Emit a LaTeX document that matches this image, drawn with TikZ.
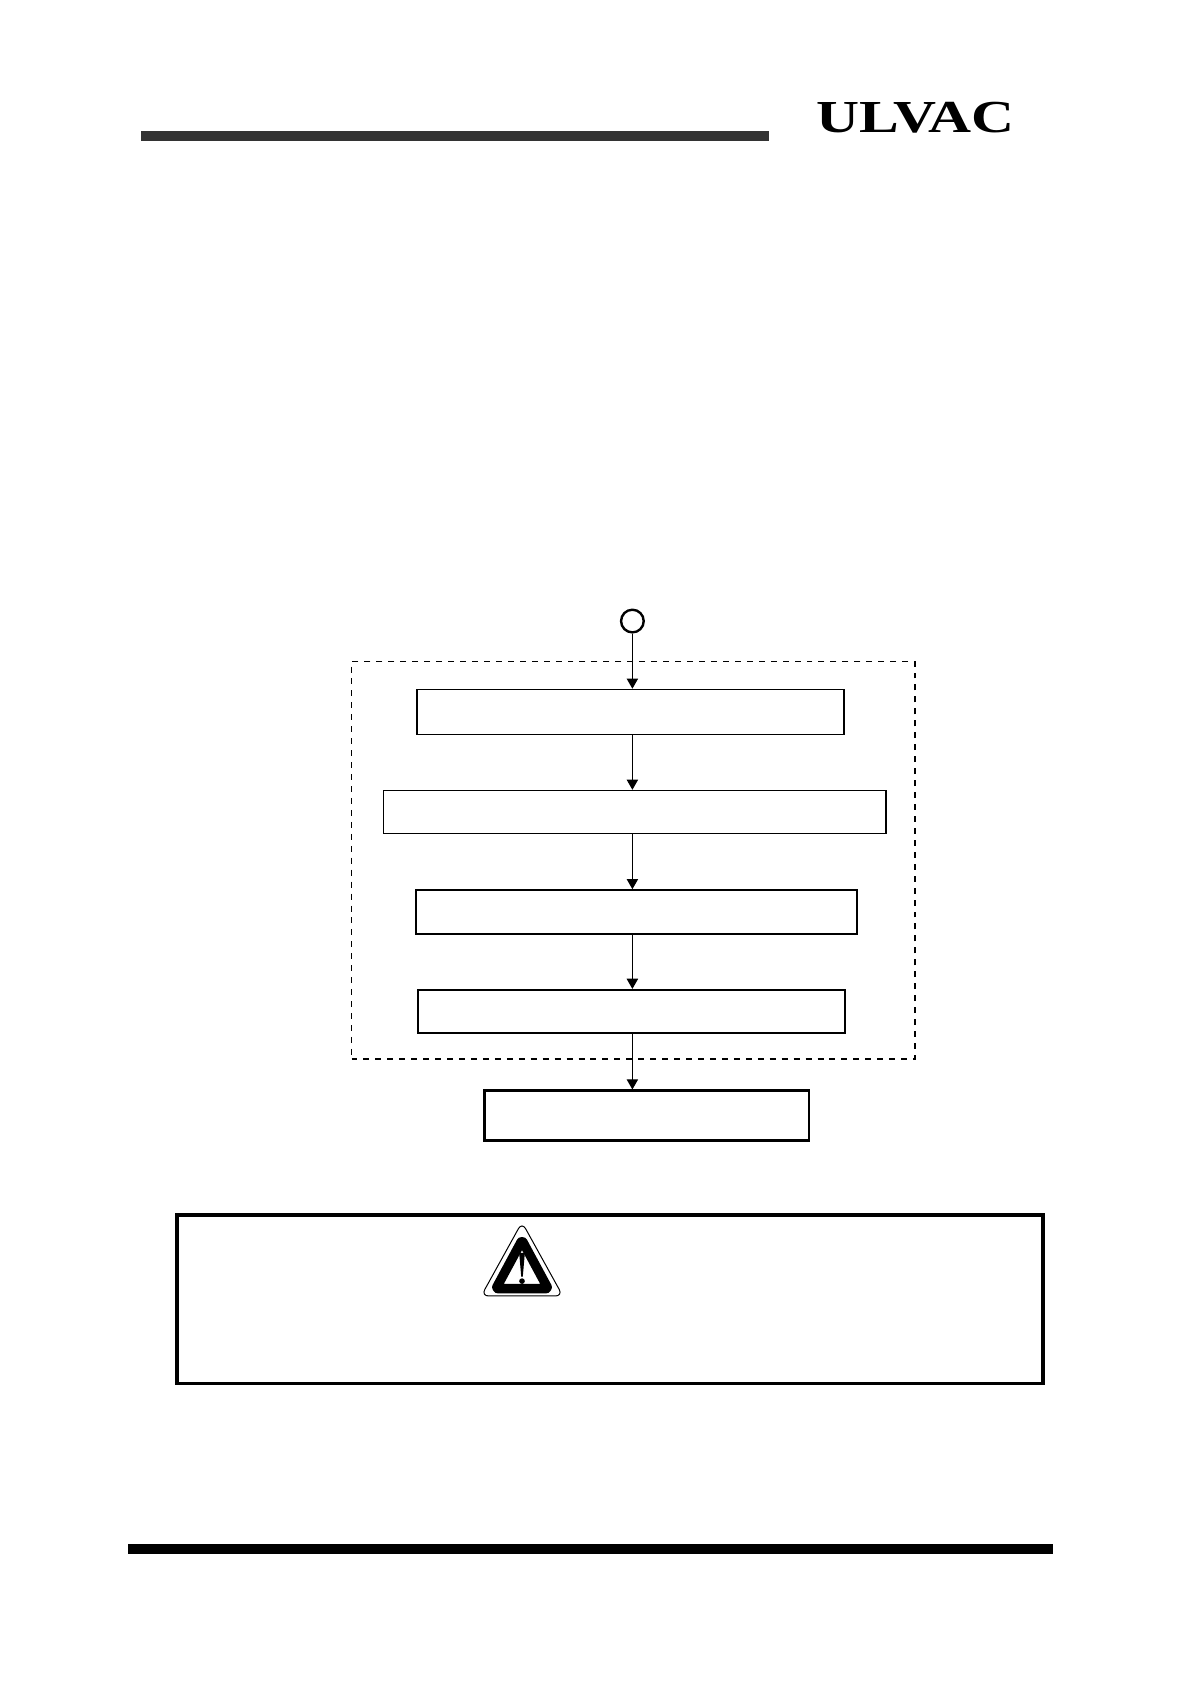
\documentclass[tikz,border=0pt]{standalone}
\usepackage{fontspec}
\usepackage{xcolor}
\usetikzlibrary{arrows.meta, calc}
\newfontfamily\logofont{Liberation Serif}
\definecolor{cBar}{RGB}{51,51,51}
\tikzset{
	bar/.style      ={rectangle, minimum height=0.176cm, inner sep=0pt, fill=black},
	stepbox/.style  ={rectangle, draw=black, line width=0.8pt, inner sep=0pt, fill=white},
	endbox/.style   ={stepbox, line width=1.5pt},
	groupbox/.style ={rectangle, draw=black, dashed, line width=0.65pt, inner sep=0pt},
	startmark/.style={circle, draw=black, line width=1.2pt, minimum size=0.4cm, inner sep=0pt, fill=white},
	noticebox/.style={rectangle, draw=black, line width=1.8pt, inner sep=0pt},
	sig/.style      ={-{Triangle[length=1.8mm, width=2mm]}, line width=0.6pt},
}
\begin{document}
\begin{tikzpicture}
	\useasboundingbox (0,0) rectangle (21,-29.718);
	% page header and footer
	\node[bar, fill=cBar, minimum width=11.08cm] (topbar) at (8.03,-2.4) {};
	\node[bar, minimum width=16.33cm] (bottombar) at (10.426,-27.335) {};
	\node[inner sep=0pt, font=\logofont\bfseries\fontsize{23}{23}\selectfont] (logo) at (16.156,-2.07) {\scalebox{1.3}[1]{ULVAC}};
	% flow
	\node[groupbox, minimum width=9.944cm, minimum height=7.015cm] (group) at (11.175,-15.181) {};
	\node[startmark] (start) at (11.16,-10.96) {};
	\node[stepbox, minimum width=7.54cm, minimum height=0.794cm] (stepa) at (11.124,-12.565) {};
	\node[stepbox, minimum width=8.87cm, minimum height=0.757cm] (stepb) at (11.2,-14.33) {};
	\node[stepbox, minimum width=7.78cm, minimum height=0.776cm] (stepc) at (11.232,-16.094) {};
	\node[stepbox, minimum width=7.535cm, minimum height=0.759cm] (stepd) at (11.144,-17.845) {};
	\node[endbox, minimum width=5.735cm, minimum height=0.875cm] (stepe) at (11.409,-19.69) {};
	\draw[sig] (start) -- (start |- stepa.north);
	\draw[sig] (stepa.south -| start) -- (start |- stepb.north);
	\draw[sig] (stepb.south -| start) -- (start |- stepc.north);
	\draw[sig] (stepc.south -| start) -- (start |- stepd.north);
	\draw[sig] (stepd.south -| start) -- (start |- stepe.north);
	% notice
	\node[noticebox, minimum width=15.28cm, minimum height=2.975cm] (notice) at (10.765,-22.924) {};
	\begin{scope}[shift={(9.212,-22.288)}]
		\draw[line width=0.5pt, rounded corners=0.13cm] (0,0.72) -- (0.72,-0.582) -- (-0.72,-0.582) -- cycle;
		\draw[line width=4.7pt, rounded corners=0.03cm, line join=round] (0,0.4) -- (0.46,-0.453) -- (-0.46,-0.453) -- cycle;
		\fill (-0.05,0.18) -- (0.05,0.18) -- (0.014,-0.24) -- (-0.014,-0.24) -- cycle;
		\fill (0,-0.32) circle (0.05);
	\end{scope}
\end{tikzpicture}
\end{document}
